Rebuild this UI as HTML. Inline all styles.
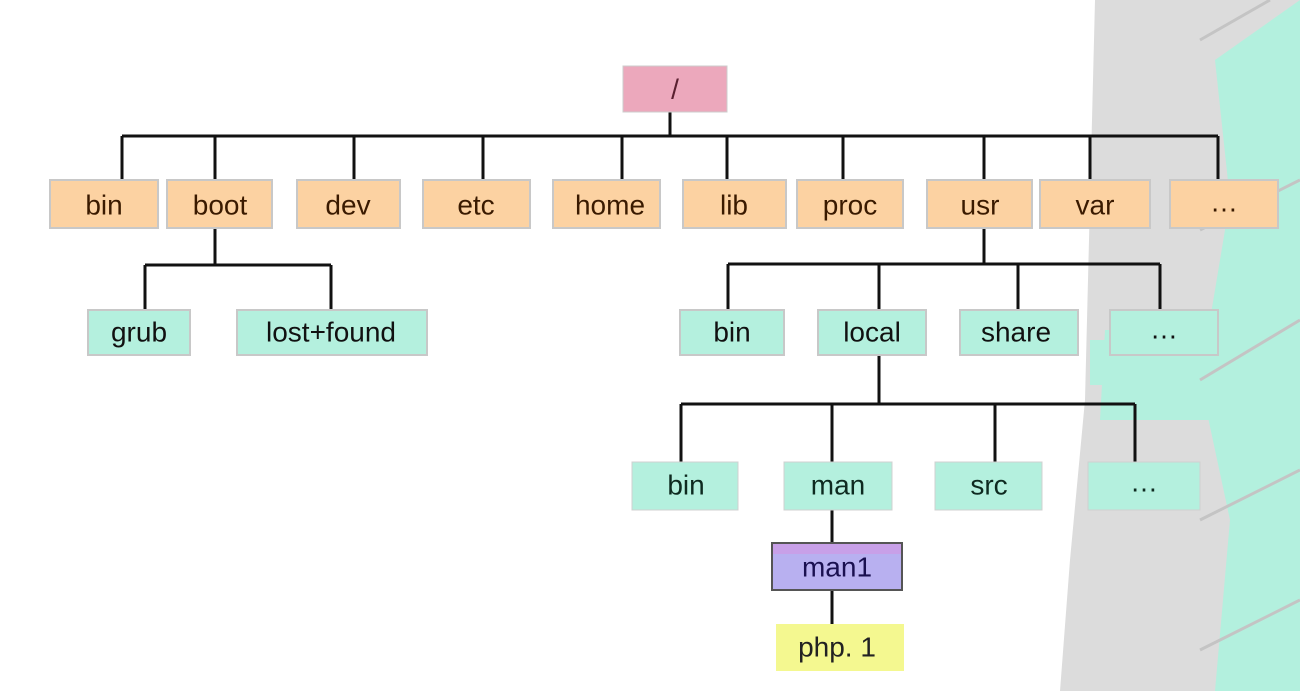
<!DOCTYPE html>
<html><head><meta charset="utf-8"><style>
html,body{margin:0;padding:0;background:#fff;}
svg{display:block;}
text{font-family:"Liberation Sans",sans-serif;font-size:28px;text-anchor:middle;dominant-baseline:central;}
</style></head><body>
<svg width="1300" height="691" viewBox="0 0 1300 691" xmlns="http://www.w3.org/2000/svg">
<!-- decorative background -->
<polygon points="1095,0 1300,0 1300,691 1060,691 1070,560 1085,400 1090,200" fill="#dcdcdc"/>
<polygon points="1215,60 1300,0 1300,691 1215,691 1230,520 1200,380 1230,200" fill="#b3f0de"/>
<polygon points="1105,330 1300,330 1300,420 1100,420" fill="#b3f0de"/>
<polygon points="1090,340 1250,340 1250,385 1090,385" fill="#b3f0de"/>
<g stroke="#c4c4c4" stroke-width="3" fill="none">
<line x1="1200" y1="230" x2="1300" y2="180"/>
<line x1="1200" y1="380" x2="1300" y2="320"/>
<line x1="1200" y1="520" x2="1300" y2="470"/>
<line x1="1200" y1="650" x2="1300" y2="600"/>
<line x1="1200" y1="40" x2="1270" y2="0"/>
</g>
<!-- connectors -->
<g stroke="#111" stroke-width="3" fill="none">
<line x1="670" y1="112" x2="670" y2="136"/>
<line x1="122" y1="136" x2="1218" y2="136"/>
<line x1="122" y1="136" x2="122" y2="180"/>
<line x1="215" y1="136" x2="215" y2="180"/>
<line x1="354" y1="136" x2="354" y2="180"/>
<line x1="483" y1="136" x2="483" y2="180"/>
<line x1="622" y1="136" x2="622" y2="180"/>
<line x1="727" y1="136" x2="727" y2="180"/>
<line x1="843" y1="136" x2="843" y2="180"/>
<line x1="984" y1="136" x2="984" y2="180"/>
<line x1="1090" y1="136" x2="1090" y2="180"/>
<line x1="1218" y1="136" x2="1218" y2="180"/>
<line x1="215" y1="228" x2="215" y2="265"/>
<line x1="145" y1="265" x2="331" y2="265"/>
<line x1="145" y1="265" x2="145" y2="310"/>
<line x1="331" y1="265" x2="331" y2="310"/>
<line x1="984" y1="228" x2="984" y2="264"/>
<line x1="728" y1="264" x2="1160" y2="264"/>
<line x1="728" y1="264" x2="728" y2="310"/>
<line x1="879" y1="264" x2="879" y2="310"/>
<line x1="1018" y1="264" x2="1018" y2="310"/>
<line x1="1160" y1="264" x2="1160" y2="310"/>
<line x1="879" y1="355" x2="879" y2="404"/>
<line x1="681" y1="404" x2="1135" y2="404"/>
<line x1="681" y1="404" x2="681" y2="462"/>
<line x1="832" y1="404" x2="832" y2="462"/>
<line x1="995" y1="404" x2="995" y2="462"/>
<line x1="1135" y1="404" x2="1135" y2="462"/>
<line x1="832" y1="510" x2="832" y2="543"/>
<line x1="832" y1="590" x2="832" y2="624"/>
</g>
<!-- root -->
<rect x="623" y="66" width="104" height="46" fill="#eca8bc" stroke="#ccc" stroke-width="1"/>
<text x="675" y="89" fill="#5a2030">/</text>
<!-- row1 -->
<g fill="#fcd2a2" stroke="#c8c8c8" stroke-width="2">
<rect x="50" y="180" width="108" height="48"/>
<rect x="167" y="180" width="105" height="48"/>
<rect x="297" y="180" width="103" height="48"/>
<rect x="423" y="180" width="107" height="48"/>
<rect x="553" y="180" width="107" height="48"/>
<rect x="683" y="180" width="103" height="48"/>
<rect x="797" y="180" width="106" height="48"/>
<rect x="927" y="180" width="105" height="48"/>
<rect x="1040" y="180" width="110" height="48"/>
<rect x="1170" y="180" width="108" height="48"/>
</g>
<g fill="#3a1a00">
<text x="104" y="205">bin</text>
<text x="220" y="205">boot</text>
<text x="348" y="205">dev</text>
<text x="476" y="205">etc</text>
<text x="610" y="205">home</text>
<text x="734" y="205">lib</text>
<text x="850" y="205">proc</text>
<text x="980" y="205">usr</text>
<text x="1095" y="205">var</text>
<text x="1224" y="202">…</text>
</g>
<!-- row2 -->
<g fill="#b4f0de" stroke="#c8c8c8" stroke-width="2">
<rect x="88" y="310" width="102" height="45"/>
<rect x="237" y="310" width="190" height="45"/>
<rect x="680" y="310" width="104" height="45"/>
<rect x="818" y="310" width="108" height="45"/>
<rect x="960" y="310" width="118" height="45"/>
<rect x="1110" y="310" width="108" height="45"/>
</g>
<g fill="#111">
<text x="139" y="332">grub</text>
<text x="331" y="332">lost+found</text>
<text x="732" y="332">bin</text>
<text x="872" y="332">local</text>
<text x="1016" y="332">share</text>
<text x="1164" y="329">…</text>
</g>
<!-- row3 -->
<g fill="#b4f0de" stroke="#d0d0d0" stroke-width="1">
<rect x="632" y="462" width="106" height="48"/>
<rect x="784" y="462" width="108" height="48"/>
<rect x="935" y="462" width="107" height="48"/>
<rect x="1088" y="462" width="112" height="48"/>
</g>
<g fill="#0e2a20">
<text x="686" y="485">bin</text>
<text x="838" y="485">man</text>
<text x="989" y="485">src</text>
<text x="1144" y="482">…</text>
</g>
<rect x="772" y="543" width="130" height="47" fill="#b8b0f0" stroke="#555" stroke-width="2"/>
<rect x="773" y="544" width="128" height="10" fill="#d890e0" opacity="0.5"/>
<text x="837" y="567" fill="#1a1050">man1</text>
<rect x="776" y="624" width="128" height="47" fill="#f4f890"/>
<text x="837" y="647" fill="#222">php. 1</text>
</svg>
</body></html>
